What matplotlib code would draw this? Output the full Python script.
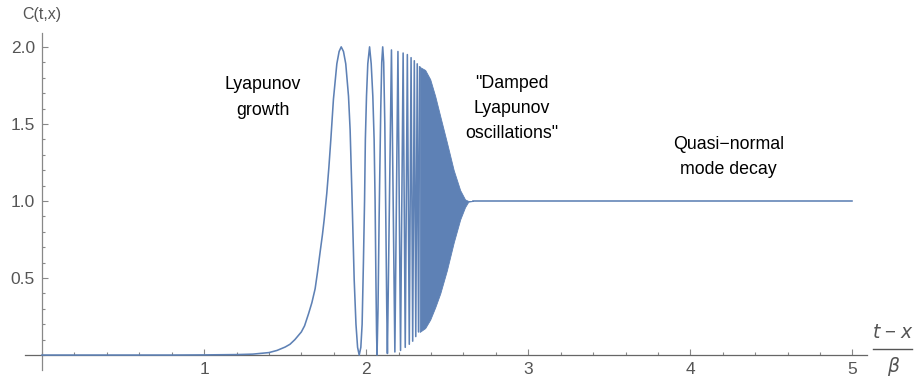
import matplotlib.pyplot as plt
from matplotlib.ticker import MultipleLocator, FixedLocator
import numpy as np

plt.rcParams['font.family'] = ['Liberation Sans', 'DejaVu Sans']

# growth + first three humps
t_rise = [0.0, 0.8, 1.0, 1.2, 1.3, 1.4, 1.45, 1.5, 1.53, 1.56, 1.6, 1.62, 1.645, 1.665,
          1.685, 1.70, 1.716, 1.73, 1.741, 1.757, 1.77, 1.782, 1.798, 1.819, 1.833, 1.846,
          1.86, 1.874, 1.891, 1.901, 1.912, 1.926, 1.937, 1.947, 1.957,
          1.967, 1.975, 1.983, 1.99, 1.995, 2.002, 2.01, 2.021, 2.031, 2.041, 2.049,
          2.055, 2.06, 2.064, 2.067,
          2.073, 2.08, 2.09, 2.096, 2.102, 2.108, 2.115, 2.122, 2.127, 2.131]
c_rise = [0.0, 0.0, 0.001, 0.003, 0.006, 0.016, 0.03, 0.052, 0.07, 0.10, 0.15, 0.19, 0.27, 0.34,
          0.43, 0.54, 0.67, 0.78, 0.88, 1.05, 1.22, 1.40, 1.66, 1.89, 1.97, 2.0,
          1.97, 1.89, 1.68, 1.46, 1.05, 0.49, 0.20, 0.05, 0.0,
          0.05, 0.20, 0.60, 1.0, 1.40, 1.68, 1.89, 2.0, 1.89, 1.68, 1.40,
          1.0, 0.50, 0.15, 0.0,
          0.30, 0.90, 1.60, 1.90, 2.0, 1.90, 1.50, 0.80, 0.30, 0.01]

# peaks / troughs of the faster oscillations
t_osc = [2.156, 2.177, 2.196, 2.212, 2.228, 2.241, 2.254, 2.266, 2.277,
         2.287, 2.297, 2.306, 2.315, 2.323, 2.330]
c_osc = [1.98, 0.02, 1.97, 0.03, 1.96, 0.05, 1.95, 0.07, 1.93,
         0.09, 1.91, 0.12, 1.89, 0.15, 1.87]

# envelope of the unresolved (damped) oscillations
t_env = [2.33, 2.364, 2.395, 2.426, 2.457, 2.498, 2.54, 2.58, 2.61, 2.63, 2.66]
c_top = [1.87, 1.85, 1.79, 1.68, 1.55, 1.38, 1.20, 1.07, 1.01, 1.0, 1.0]
c_bot = [0.15, 0.175, 0.23, 0.31, 0.40, 0.55, 0.73, 0.88, 0.96, 0.995, 1.0]

# quasi-normal tail
t_tail = [2.66, 5.0]
c_tail = [1.0, 1.0]

blue = '#5E81B5'
axcol = '#888888'
labcol = '#555555'

fig = plt.figure(figsize=(9.16, 3.81), dpi=100)
ax = fig.add_axes([25 / 916, 11 / 381, 842 / 916, 337 / 381])

ax.plot(t_rise + t_osc, c_rise + c_osc, color=blue, lw=1.15, zorder=3)
ax.fill_between(t_env, c_bot, c_top, color=blue, lw=0.6, edgecolor=blue, zorder=3)
ax.plot(t_tail, c_tail, color=blue, lw=1.15, zorder=3)

ax.set_xlim(-0.105, 5.09)
ax.set_ylim(-0.097, 2.09)

for s in ['top', 'right']:
    ax.spines[s].set_visible(False)
ax.spines['left'].set_position(('data', 0))
ax.spines['bottom'].set_position(('data', 0))
for s in ['left', 'bottom']:
    ax.spines[s].set_color(axcol)
    ax.spines[s].set_linewidth(0.9)
ax.spines['bottom'].set_color('#666666')

ax.xaxis.set_major_locator(FixedLocator([1, 2, 3, 4, 5]))
ax.xaxis.set_minor_locator(MultipleLocator(0.2))
ax.yaxis.set_major_locator(FixedLocator([0.5, 1.0, 1.5, 2.0]))
ax.yaxis.set_minor_locator(MultipleLocator(0.1))
ax.set_xticklabels(['1', '2', '3', '4', '5'])
ax.set_yticklabels(['0.5', '1.0', '1.5', '2.0'])
ax.tick_params(which='both', direction='in', color=axcol, width=0.8,
               labelcolor=labcol, labelsize=12.5)
ax.tick_params(which='major', length=4.5, pad=5)
ax.tick_params(which='minor', length=2.5)

fig.text(42 / 916, 1 - 15 / 381, 'C(t,x)', color=labcol, fontsize=11.5,
         ha='center', va='center')

# x axis label drawn as a fraction
fig.text(892.5 / 916, 1 - 333 / 381, r'$\it{t}$ − $\it{x}$', color=labcol,
         fontsize=13.5, ha='center', va='center')
fig.add_artist(plt.Line2D([873 / 916, 912 / 916], [1 - 349 / 381, 1 - 349 / 381],
                          color=labcol, lw=1.0))
fig.text(894 / 916, 1 - 366 / 381, r'$\beta$', color=labcol,
         fontsize=13.5, ha='center', va='center')

ax.text(1.364, 1.67, 'Lyapunov\ngrowth', fontsize=12.8, ha='center', va='center',
        linespacing=1.65)
ax.text(2.90, 1.60, '"Damped\nLyapunov\noscillations"', fontsize=12.8,
        ha='center', va='center', linespacing=1.65)
ax.text(4.235, 1.285, 'Quasi−normal\nmode decay', fontsize=12.8, ha='center',
        va='center', linespacing=1.65)

fig.savefig('out.png', dpi=100)
